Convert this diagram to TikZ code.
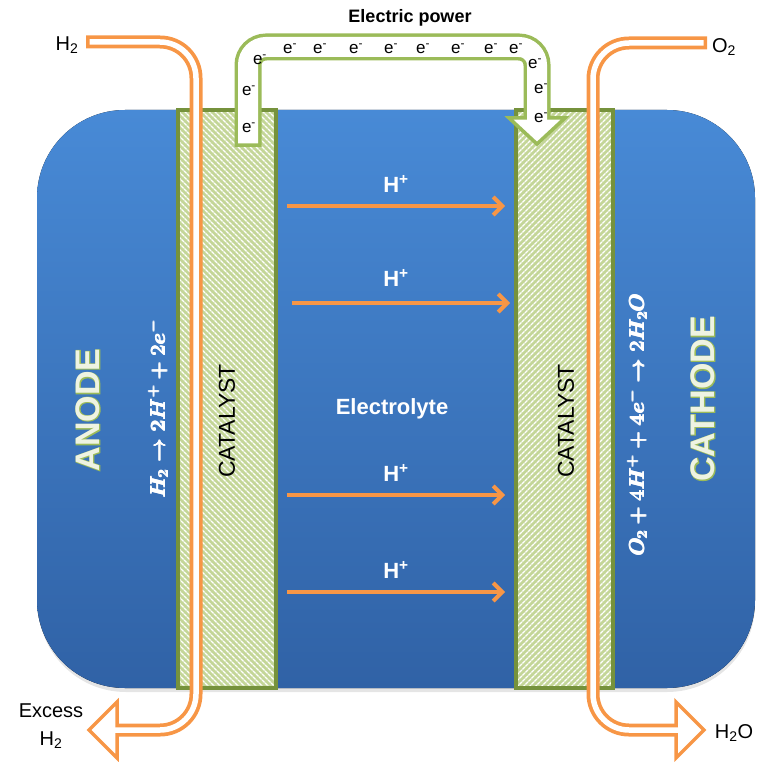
\documentclass[tikz,border=0pt]{standalone}
\usepackage[no-math]{fontspec}
\usepackage{bm}
\setmainfont{Liberation Sans}
\newfontfamily\fatfont[FakeBold=4]{Liberation Sans Bold}
\usetikzlibrary{arrows.meta,patterns.meta}
\definecolor{boxtop}{RGB}{72,138,214}
\definecolor{boxbot}{RGB}{48,98,166}
\definecolor{catfill}{RGB}{196,214,152}
\definecolor{catline}{RGB}{118,146,60}
\definecolor{pipeor}{RGB}{247,150,70}
\definecolor{pipegr}{RGB}{155,187,89}
\definecolor{lettfill}{RGB}{238,243,226}
\tikzset{
  catbox/.style={fill=catfill, postaction={pattern={Lines[angle=#1,distance=4pt,line width=1.5pt]}, pattern color=white}},
  catedge/.style={draw=catline, line width=3.5pt},
  orout/.style={draw=pipeor, line width=13pt, rounded corners=36pt},
  orin/.style={draw=white, line width=5.5pt, rounded corners=36pt},
  orhead/.style={draw=pipeor, fill=white, line width=3.5pt, line join=miter},
  grout/.style={draw=pipegr, line width=27pt, rounded corners=18pt},
  grin/.style={draw=white, line width=20pt, rounded corners=18pt},
  grhead/.style={draw=pipegr, fill=white, line width=3.5pt, line join=miter},
  hflow/.style={draw=pipeor, line width=4pt, -{Straight Barb[length=9pt,width=18pt]}},
  hlabel/.style={text=white, inner sep=0pt, font=\bfseries\fontsize{22}{26}\selectfont},
  elab/.style={inner sep=0pt, font=\fontsize{17}{20}\selectfont},
  gaslab/.style={inner sep=0pt, font=\fontsize{20}{24}\selectfont, align=center},
  catlab/.style={rotate=90, inner sep=0pt, font=\fontsize{23}{27}\selectfont},
  bigout/.style={rotate=90, inner sep=0pt, text=pipegr, font=\fatfont\fontsize{34}{40}\selectfont},
  bigin/.style={rotate=90, inner sep=0pt, text=lettfill, font=\bfseries\fontsize{34}{40}\selectfont},
  eqlab/.style={rotate=90, inner sep=0pt, text=white, font=\boldmath\fontsize{21}{25}\selectfont},
}
\begin{document}
\begin{tikzpicture}[x=1pt,y=-1pt]
\useasboundingbox (0,0) rectangle (756,762);
% box shadow and box
\fill[black, opacity=0.10, rounded corners=88pt] (38,112) rectangle (755,692);
\fill[top color=boxtop, bottom color=boxbot, rounded corners=88pt] (37,110) rectangle (755,688);
% catalysts
\path[catbox=-45] (178,110) rectangle (276,688);
\draw[catedge] (178,110) rectangle (276,688);
\path[catbox=45] (516,110) rectangle (613,688);
\draw[catedge] (516,110) rectangle (613,688);
% H+ flows
\coordinate (h1a) at (287,206); \coordinate (h1b) at (505,206);
\coordinate (h2a) at (292,303); \coordinate (h2b) at (510,303);
\coordinate (h3a) at (287,495); \coordinate (h3b) at (505,495);
\coordinate (h4a) at (287,592); \coordinate (h4b) at (505,592);
\draw[hflow] (h1a) -- (h1b);
\draw[hflow] (h2a) -- (h2b);
\draw[hflow] (h3a) -- (h3b);
\draw[hflow] (h4a) -- (h4b);
\node[hlabel] (hp1) at (396,184) {H\textsuperscript{+}};
\node[hlabel] (hp2) at (396,278) {H\textsuperscript{+}};
\node[hlabel] (hp3) at (396,473) {H\textsuperscript{+}};
\node[hlabel] (hp4) at (396,570) {H\textsuperscript{+}};
\node[hlabel] (elyte) at (392,409) {Electrolyte};
% side labels
\node[bigout] (anodeO) at (88,410) {ANODE};
\node[bigin] (anode) at (88,410) {ANODE};
\node[bigout] (cathO) at (703,399) {CATHODE};
\node[bigin] (cath) at (703,399) {CATHODE};
\foreach \dx/\dy [count=\k] in {-0.35/-0.35, 0.35/-0.35, -0.35/0.35, 0.35/0.35} {
  \node[eqlab] (eqa\k) at (158+\dx,409+\dy) {$H_2\rightarrow 2H^{+}+2e^{-}$};
  \node[eqlab] (eqc\k) at (637+\dx,425+\dy) {$O_2+4H^{+}+4e^{-}\rightarrow 2H_2O$};
}
\node[catlab] (cat1) at (227,421) {CATALYST};
\node[catlab] (cat2) at (566,421) {CATALYST};
% anode gas pipe
\draw[orhead] (117,702) -- (89,730) -- (117,758) -- cycle;
\draw[orout] (86,42) -- (196,42) -- (196,730) -- (117,730);
\draw[orin] (89.5,42) -- (196,42) -- (196,730) -- (113,730);
% cathode gas pipe
\draw[orhead] (676,702) -- (704,730) -- (676,758) -- cycle;
\draw[orout] (707,43) -- (593,43) -- (593,730) -- (676,730);
\draw[orin] (703.5,43) -- (593,43) -- (593,730) -- (680,730);
% electron pipe
\draw[grhead] (509,118) -- (565,118) -- (537,144) -- cycle;
\draw[grout] (248,147) -- (248,47) -- (537,47) -- (537,118);
\draw[grin] (248,143.5) -- (248,47) -- (537,47) -- (537,122);
% electrons
\foreach \x/\y [count=\i] in {249/128, 249/91, 260/60, 290/49, 320/49, 356/49, 391/49, 423/49, 458/49, 491/49, 516/49, 535/64, 541/89, 541/118}
  \node[elab] (el\i) at (\x,\y) {e\textsuperscript{-}};
% gas labels
\node[inner sep=0pt, font=\bfseries\fontsize{18}{22}\selectfont] (power) at (410,18) {Electric power};
\node[gaslab] (h2in) at (67,45) {H\textsubscript{2}};
\node[gaslab] (o2in) at (724,47) {O\textsubscript{2}};
\node[gaslab, font=\fontsize{20}{28}\selectfont] (h2out) at (51,726) {Excess\\H\textsubscript{2}};
\node[gaslab] (h2o) at (734,733) {H\textsubscript{2}O};
\end{tikzpicture}
\end{document}
